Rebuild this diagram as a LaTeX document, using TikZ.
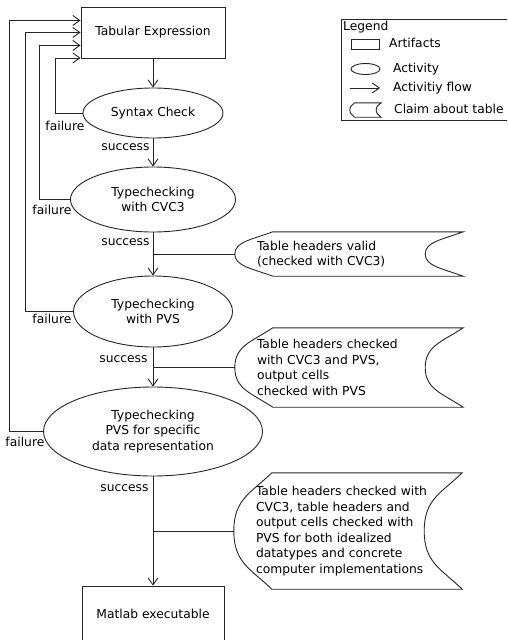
\documentclass[tikz,border=0pt]{standalone}
\usepackage{fontspec}
\setmainfont{DejaVu Sans}
\usetikzlibrary{shapes.geometric,arrows.meta}
\newcommand\claimoutline[3]{%
  \draw[line] ([xshift=#2]#1.north west) -- (#1.north east)
    .. controls +({-0.55*#2},{0.35*#3}) and +(0,{-0.55*#3}) .. ([xshift=-#2]#1.east)
    .. controls +(0,{0.55*#3}) and +({-0.55*#2},{-0.35*#3}) .. (#1.south east)
    -- ([xshift=#2]#1.south west)
    .. controls +({-0.55*#2},{-0.35*#3}) and +(0,{0.55*#3}) .. (#1.west)
    .. controls +(0,{-0.55*#3}) and +({-0.55*#2},{0.35*#3}) .. ([xshift=#2]#1.north west) -- cycle;}
\begin{document}
\begin{tikzpicture}[x=1pt,y=-1pt, font=\fontsize{12.3}{15.5}\selectfont,
  line/.style={draw=black!85, line width=0.9pt},
  flow/.style={line, -{Straight Barb[length=7pt,width=10pt]}},
  artifact/.style={rectangle, draw=black!85, line width=0.9pt, inner sep=0pt},
  activity/.style={ellipse, draw=black!85, line width=0.9pt, inner sep=0pt, align=center},
  claimtext/.style={rectangle, inner xsep=22pt, inner ysep=0pt, text width=184pt, align=left},
  lbl/.style={inner sep=0pt},
]
\clip (0,0) rectangle (507,640);
% main nodes
\node[artifact, minimum width=144pt, minimum height=51pt] (tab) at (153,32.5) {Tabular Expression};
\node[activity, minimum width=140pt, minimum height=50pt] (syn) at (153,113) {Syntax Check};
\node[activity, minimum width=165pt, minimum height=65pt] (cvc) at (153,199.5) {Typechecking\\with CVC3};
\node[activity, minimum width=159pt, minimum height=71pt] (pvs) at (153,311.5) {Typechecking\\with PVS};
\node[activity, minimum width=219pt, minimum height=89pt] (spec) at (153,431.5) {Typechecking\\PVS for specific\\data representation};
\node[artifact, minimum width=142pt, minimum height=55pt] (mat) at (153,613.5) {Matlab executable};
% success flow
\draw[flow] (tab.south) -- (syn.north);
\draw[flow] (syn.south) -- node[lbl, pos=0.32, anchor=east, xshift=-3pt] {success} (cvc.north);
\draw[flow] (cvc.south) -- node[lbl, pos=0.23, anchor=east, xshift=-3pt] {success} (pvs.north);
\draw[flow] (pvs.south) -- node[lbl, pos=0.3, anchor=east, xshift=-5pt] {success} (spec.north);
\draw[flow] (spec.south) -- node[lbl, pos=0.11, anchor=east, xshift=-4pt] {success} (mat.north);
% failure flow
\draw[flow] (syn.west) -- ++(-27,0) |- ([yshift=0.5pt]tab.south west);
\draw[flow] (cvc.west) -- ++(-30.5,0) |- ([yshift=13pt]tab.south west);
\draw[flow] (pvs.west) -- ++(-47.5,0) |- ([yshift=26pt]tab.south west);
\draw[flow] (spec.west) -- ++(-33.5,0) |- ([yshift=38pt]tab.south west);
\node[lbl, anchor=east] at ([shift={(2,13)}]syn.west) {failure};
\node[lbl, anchor=east] at ([shift={(1.5,10.5)}]cvc.west) {failure};
\node[lbl, anchor=east] at ([shift={(-1.5,7.5)}]pvs.west) {failure};
\node[lbl, anchor=east] at ([shift={(1.5,10.5)}]spec.west) {failure};
% claims
\node[claimtext, minimum height=44pt] (c1) at (349,254) {Table headers valid\\(checked with CVC3)};
\node[claimtext, minimum height=79pt] (c2) at (349,367.5) {Table headers checked\\with CVC3 and PVS,\\output cells\\checked with PVS};
\node[claimtext, minimum height=116pt] (c3) at (348,531) {Table headers checked with\\CVC3, table headers and\\output cells checked with\\PVS for both idealized\\datatypes and concrete\\computer implementations};
\claimoutline{c1}{38}{22}
\claimoutline{c2}{38}{39.5}
\claimoutline{c3}{38}{58}
\draw[line] (c1.west) -- (c1.west -| cvc.south);
\draw[line] (c2.west) -- (c2.west -| pvs.south);
\draw[line] (c3.west) -- (c3.west -| spec.south);
% legend
\node[artifact, minimum width=180pt, minimum height=101pt, anchor=north west] (leg) at (341,19) {};
\node[lbl, anchor=mid west] (legt) at (343,28) {Legend};
\node[artifact, minimum width=28pt, minimum height=10pt] (lrect) at (365,44) {};
\node[lbl, anchor=mid west] at (389,45) {Artifacts};
\node[activity, minimum width=29pt, minimum height=11pt] (lell) at (365.5,69) {};
\node[lbl, anchor=mid west] at (393,70) {Activity};
\coordinate (la1) at (350,88);
\coordinate (la2) at (380,88);
\draw[flow] (la1) -- (la2);
\node[lbl, anchor=mid west] at (393,89) {Activitiy flow};
\node[minimum width=31pt, minimum height=14pt, inner sep=0pt] (lclaim) at (365.5,110) {};
\claimoutline{lclaim}{5}{7}
\node[lbl, anchor=mid west] at (394,111) {Claim about table};
\end{tikzpicture}
\end{document}
